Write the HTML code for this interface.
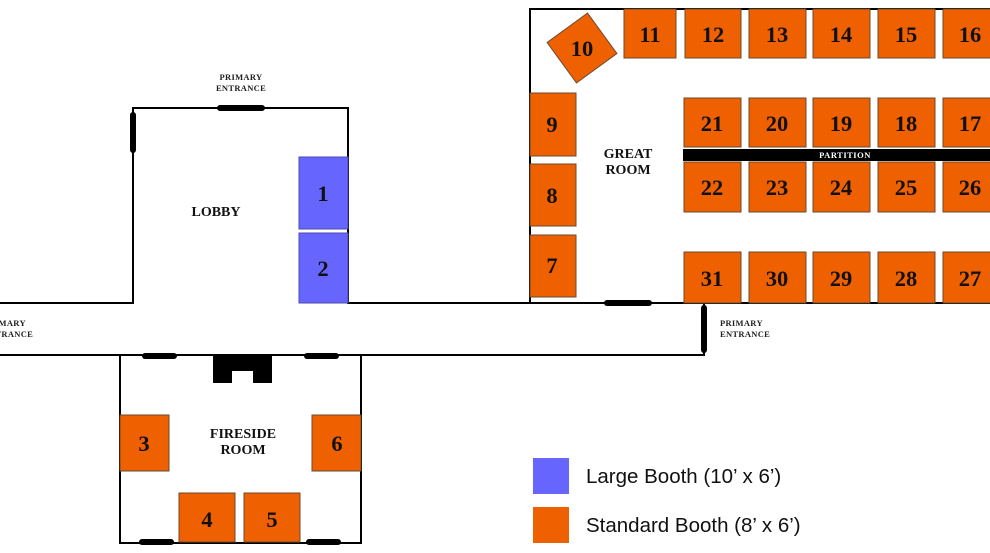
<!DOCTYPE html>
<html><head><meta charset="utf-8"><style>
html,body{margin:0;padding:0;background:#fff;width:990px;height:553px;overflow:hidden}
svg{display:block}
.b{fill:#ee6000;stroke:#6a4a30;stroke-width:1}
.l{fill:#6666ff;stroke:#4a4ab0;stroke-width:1}
.n{font-family:"Liberation Serif",serif;font-weight:bold;font-size:22.5px;fill:#111;text-anchor:middle}
.r{font-family:"Liberation Serif",serif;font-weight:bold;font-size:14px;fill:#111;text-anchor:middle}
.e{font-family:"Liberation Serif",serif;font-weight:bold;font-size:8.5px;fill:#222;letter-spacing:0.3px}
.w{stroke:#000;stroke-width:2;fill:none}
.d{stroke:#000;stroke-width:6;stroke-linecap:round}
.lg{font-family:"Liberation Sans",sans-serif;font-size:20.5px;fill:#111}
</style></head><body>
<svg width="990" height="553" viewBox="0 0 990 553" xmlns="http://www.w3.org/2000/svg">
<polyline class="w" points="0,303 133,303 133,108 348,108 348,303 530,303"/>
<polyline class="w" points="990,9 530,9 530,303 990,303"/>
<polyline class="w" points="0,355 704,355 704,303"/>
<polyline class="w" points="120,355 120,543 361,543 361,355"/>
<line class="d" x1="133" y1="115" x2="133" y2="150"/>
<line class="d" x1="220" y1="108" x2="262" y2="108"/>
<line class="d" x1="607" y1="303" x2="649" y2="303"/>
<line class="d" x1="704" y1="308" x2="704" y2="350"/>
<line class="d" x1="145" y1="356" x2="174" y2="356"/>
<line class="d" x1="307" y1="356" x2="336" y2="356"/>
<line class="d" x1="142" y1="542" x2="171" y2="542"/>
<line class="d" x1="309" y1="542" x2="338" y2="542"/>
<path d="M213,355 H272 V383 H253 V371 H232 V383 H213 Z" fill="#000"/>
<text class="e" x="241" y="80" text-anchor="middle">PRIMARY</text>
<text class="e" x="241" y="91" text-anchor="middle">ENTRANCE</text>
<text class="e" x="-17" y="326">PRIMARY</text>
<text class="e" x="-17" y="337">ENTRANCE</text>
<text class="e" x="720" y="326">PRIMARY</text>
<text class="e" x="720" y="337">ENTRANCE</text>
<text class="r" x="216" y="216">LOBBY</text>
<text class="r" x="628" y="158">GREAT</text>
<text class="r" x="628" y="174">ROOM</text>
<text class="r" x="243" y="438">FIRESIDE</text>
<text class="r" x="243" y="454">ROOM</text>
<rect class="l" x="299" y="157" width="49" height="72"/><text class="n" x="323" y="201">1</text>
<rect class="l" x="299" y="233" width="49" height="70"/><text class="n" x="323" y="276">2</text>
<rect class="b" x="120" y="415" width="49" height="56"/><text class="n" x="144" y="451">3</text>
<rect class="b" x="312" y="415" width="49" height="56"/><text class="n" x="337" y="451">6</text>
<rect class="b" x="179" y="493" width="56" height="49"/><text class="n" x="207" y="527">4</text>
<rect class="b" x="244" y="493" width="56" height="49"/><text class="n" x="272" y="527">5</text>
<rect class="b" x="530" y="93" width="46" height="63"/><text class="n" x="552" y="132">9</text>
<rect class="b" x="530" y="164" width="46" height="62"/><text class="n" x="552" y="203">8</text>
<rect class="b" x="530" y="235" width="46" height="62"/><text class="n" x="552" y="273">7</text>
<g transform="translate(582,48) rotate(-36)"><rect class="b" x="-25" y="-25" width="50" height="50"/></g>
<text class="n" x="582" y="56">10</text>
<rect class="b" x="624" y="9" width="52" height="49"/><text class="n" x="650" y="42">11</text>
<rect class="b" x="685" y="9" width="56" height="49"/><text class="n" x="713" y="42">12</text>
<rect class="b" x="749" y="9" width="57" height="49"/><text class="n" x="777" y="42">13</text>
<rect class="b" x="813" y="9" width="57" height="49"/><text class="n" x="841" y="42">14</text>
<rect class="b" x="878" y="9" width="57" height="49"/><text class="n" x="906" y="42">15</text>
<rect class="b" x="943" y="9" width="50" height="49"/><text class="n" x="970" y="42">16</text>
<rect class="b" x="684" y="98" width="57" height="49"/><text class="n" x="712" y="131">21</text>
<rect class="b" x="749" y="98" width="57" height="49"/><text class="n" x="777" y="131">20</text>
<rect class="b" x="813" y="98" width="57" height="49"/><text class="n" x="841" y="131">19</text>
<rect class="b" x="878" y="98" width="57" height="49"/><text class="n" x="906" y="131">18</text>
<rect class="b" x="943" y="98" width="50" height="49"/><text class="n" x="970" y="131">17</text>
<rect x="683" y="149" width="310" height="12" fill="#000"/>
<text x="845" y="158" font-family="Liberation Serif,serif" font-weight="bold" font-size="8.5" fill="#fff" text-anchor="middle" letter-spacing="0.5">PARTITION</text>
<rect class="b" x="684" y="162" width="57" height="50"/><text class="n" x="712" y="195">22</text>
<rect class="b" x="749" y="162" width="57" height="50"/><text class="n" x="777" y="195">23</text>
<rect class="b" x="813" y="162" width="57" height="50"/><text class="n" x="841" y="195">24</text>
<rect class="b" x="878" y="162" width="57" height="50"/><text class="n" x="906" y="195">25</text>
<rect class="b" x="943" y="162" width="50" height="50"/><text class="n" x="970" y="195">26</text>
<rect class="b" x="684" y="252" width="57" height="51"/><text class="n" x="712" y="286">31</text>
<rect class="b" x="749" y="252" width="57" height="51"/><text class="n" x="777" y="286">30</text>
<rect class="b" x="813" y="252" width="57" height="51"/><text class="n" x="841" y="286">29</text>
<rect class="b" x="878" y="252" width="57" height="51"/><text class="n" x="906" y="286">28</text>
<rect class="b" x="943" y="252" width="50" height="51"/><text class="n" x="970" y="286">27</text>
<rect x="533" y="458" width="36" height="36" fill="#6666ff"/>
<rect x="533" y="507" width="36" height="36" fill="#ee6000"/>
<text class="lg" x="586" y="483">Large Booth (10’ x 6’)</text>
<text class="lg" x="586" y="532">Standard Booth (8’ x 6’)</text>
</svg>
</body></html>
